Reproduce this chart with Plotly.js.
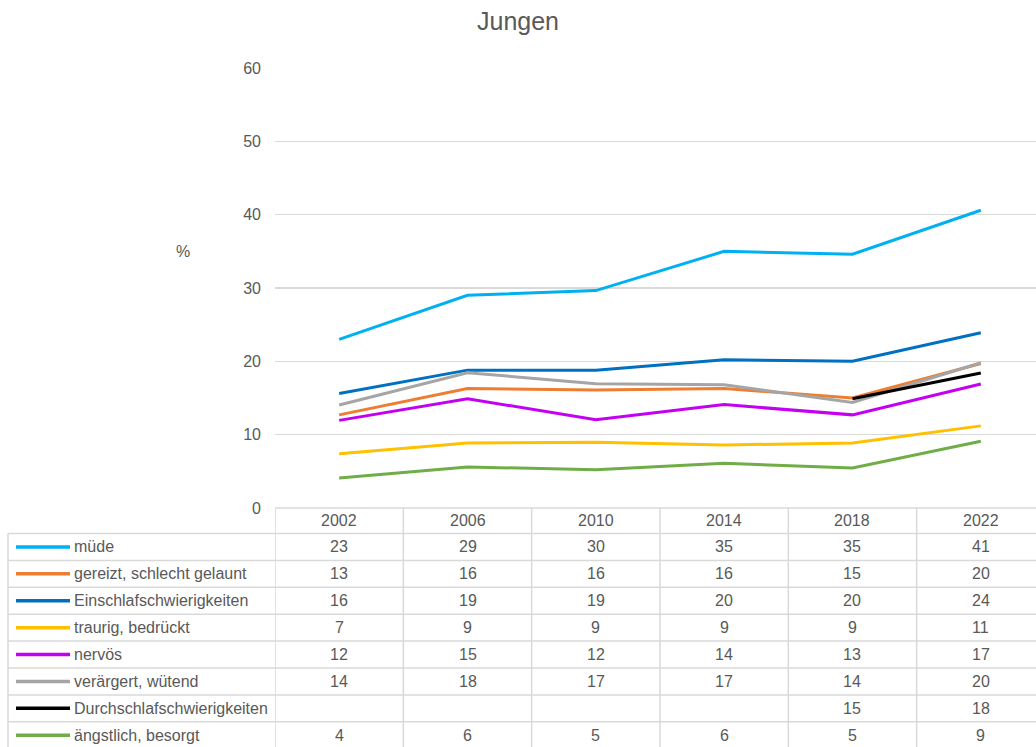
<!DOCTYPE html>
<html>
<head>
<meta charset="utf-8">
<script src="https://cdn.plot.ly/plotly-3.0.1.min.js"></script>
<style>html,body{margin:0;padding:0;background:#fff}#chart{width:1036px;height:747px}</style>
</head>
<body>
<div id="chart"></div>
<script>
// ---- data ----
var years = ['2002', '2006', '2010', '2014', '2018', '2022'];
var seriesNames = ['müde', 'gereizt, schlecht gelaunt', 'Einschlafschwierigkeiten', 'traurig, bedrückt', 'nervös', 'verärgert, wütend', 'Durchschlafschwierigkeiten', 'ängstlich, besorgt'];
var muede       = [23.0, 29.0, 29.65, 35.0, 34.6, 40.6];
var gereizt     = [12.7, 16.3, 16.1, 16.3, 15.0, 19.7];
var einschlaf   = [15.6, 18.8, 18.8, 20.2, 20.0, 23.9];
var traurig     = [7.4, 8.85, 8.95, 8.6, 8.85, 11.2];
var nervoes     = [11.95, 14.9, 12.05, 14.1, 12.7, 16.9];
var veraergert  = [14.05, 18.45, 16.95, 16.8, 14.4, 19.8];
var durchschlaf = [null, null, null, null, 14.9, 18.4];
var aengstlich  = [4.1, 5.6, 5.2, 6.1, 5.45, 9.1];
var allSeries = [muede, gereizt, einschlaf, traurig, nervoes, veraergert, durchschlaf, aengstlich];
var yTicks = [0, 10, 20, 30, 40, 50, 60];

// ---- styles ----
var colors = ['#00B0F0', '#ED7D31', '#0070C0', '#FFC000', '#C400F0', '#A5A5A5', '#000000', '#70AD47'];
var txt = '#595959';
var border = '#D9D9D9';
var FONT = 'Liberation Sans, Arial, sans-serif';

var W = 1036, H = 747;
var L = 275, R = 0, T = 68, B = 239;
var plotW = W - L - R, plotH = H - T - B;
function px(p) { return (p - L) / plotW; }          // pixel x -> paper x
function py(p) { return (H - B - p) / plotH; }      // pixel y -> paper y

var traces = allSeries.map(function (vals, i) {
  return {
    type: 'scatter', mode: 'lines', x: years, y: vals, name: seriesNames[i],
    line: { color: colors[i], width: 3 }, connectgaps: false, hoverinfo: 'skip', cliponaxis: false
  };
});

var shapes = [];
var annotations = [];
var headerTop = 508, headerBot = 533.5, rowH = 26.9, tableLeft = 8;
var tableBottom = headerBot + rowH * seriesNames.length;

// top border of header (zero line)
shapes.push({ type: 'line', xref: 'paper', yref: 'paper', x0: 0, x1: 1, y0: py(headerTop), y1: py(headerTop),
  line: { color: border, width: 1.5 } });
// header vertical lines at column boundaries
for (var c = 0; c <= years.length; c++) {
  shapes.push({ type: 'line', xref: 'x', yref: 'paper', x0: c - 0.5, x1: c - 0.5,
    y0: py(headerTop), y1: py(tableBottom), line: { color: border, width: 1.5 } });
}
// left border of table
shapes.push({ type: 'line', xref: 'paper', yref: 'paper', x0: px(tableLeft), x1: px(tableLeft),
  y0: py(headerBot), y1: py(tableBottom), line: { color: border, width: 1.5 } });
// horizontal row lines
for (var r = 0; r <= seriesNames.length; r++) {
  var yy = py(headerBot + r * rowH);
  shapes.push({ type: 'line', xref: 'paper', yref: 'paper', x0: px(tableLeft), x1: 1,
    y0: yy, y1: yy, line: { color: border, width: 1.5 } });
}
// header year labels
years.forEach(function (yr, c) {
  annotations.push({ xref: 'x', yref: 'paper', x: c, y: py((headerTop + headerBot) / 2),
    text: yr, showarrow: false, xanchor: 'center', yanchor: 'middle', font: { family: FONT, size: 16, color: txt } });
});
// rows: legend swatch, name, values
seriesNames.forEach(function (name, i) {
  var cy = py(headerBot + (i + 0.5) * rowH);
  shapes.push({ type: 'line', xref: 'paper', yref: 'paper', x0: px(16), x1: px(70), y0: cy, y1: cy,
    line: { color: colors[i], width: 3.5 } });
  annotations.push({ xref: 'paper', yref: 'paper', x: px(72), y: cy, text: name, showarrow: false,
    xanchor: 'left', yanchor: 'middle', font: { family: FONT, size: 16, color: txt } });
  allSeries[i].forEach(function (v, c) {
    if (v === null) return;
    annotations.push({ xref: 'x', yref: 'paper', x: c, y: cy, text: String(Math.round(v)), showarrow: false,
      xanchor: 'center', yanchor: 'middle', font: { family: FONT, size: 16, color: txt } });
  });
});
// y-axis title "%"
annotations.push({ xref: 'paper', yref: 'paper', x: px(183), y: py(251), text: '%', showarrow: false,
  xanchor: 'center', yanchor: 'middle', font: { family: FONT, size: 16, color: txt } });

var layout = {
  width: W, height: H,
  margin: { l: L, r: R, t: T, b: B, pad: 0 },
  paper_bgcolor: '#fff', plot_bgcolor: '#fff',
  title: { text: 'Jungen', font: { family: FONT, size: 25, color: txt }, xref: 'container', x: 518 / W, xanchor: 'center', yref: 'container', y: 1 - 21 / H, yanchor: 'middle' },
  showlegend: false,
  xaxis: { type: 'category', range: [-0.5, 5.43], showgrid: false, showticklabels: false, zeroline: false, showline: false, ticks: '', fixedrange: true },
  yaxis: { range: [0, 60], tickvals: yTicks, ticktext: yTicks.map(String), showgrid: true, gridcolor: border, gridwidth: 1.5,
    zeroline: false, showline: false, ticks: '', ticklabelstandoff: 13,
    tickfont: { family: FONT, size: 16, color: txt }, fixedrange: true },
  shapes: shapes,
  annotations: annotations,
  font: { family: FONT, color: txt }
};

Plotly.newPlot('chart', traces, layout, { displayModeBar: false, staticPlot: true });
</script>
</body>
</html>
